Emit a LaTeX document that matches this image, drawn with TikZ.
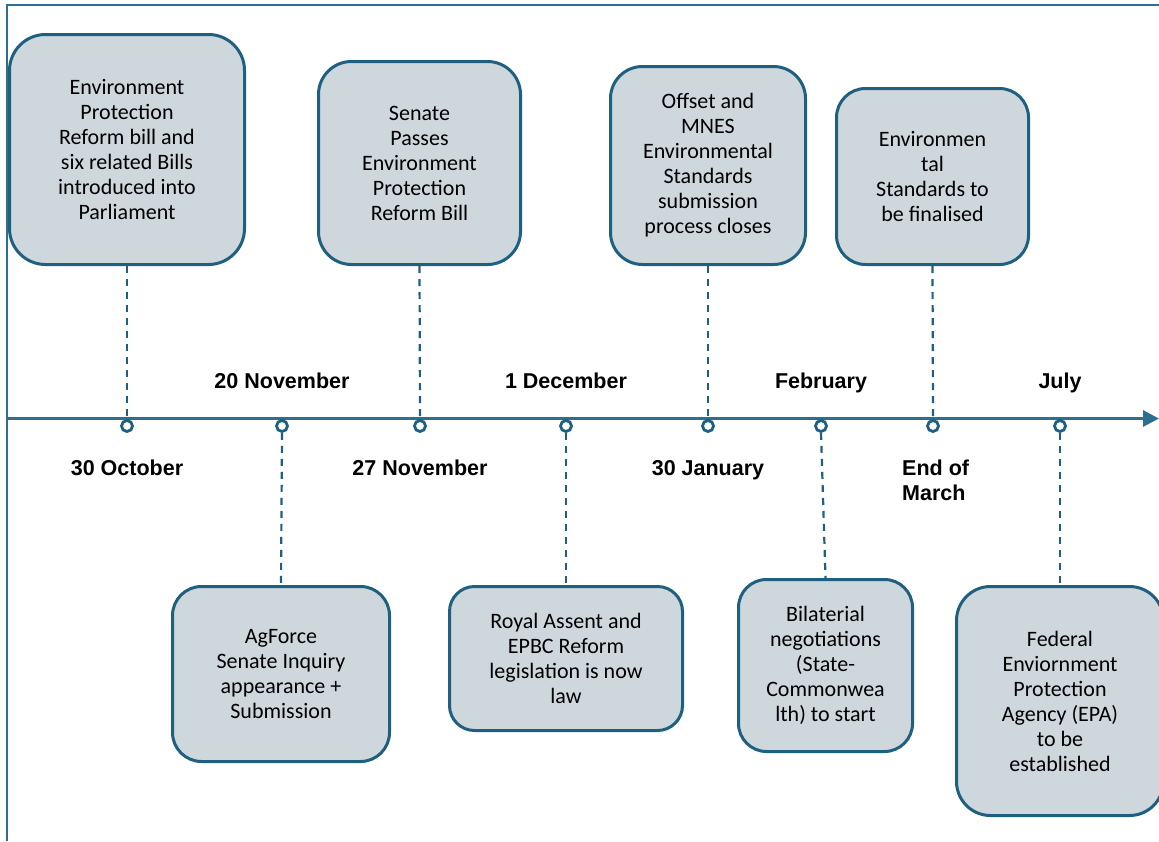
\documentclass[tikz,border=0pt]{standalone}
\usepackage{fontspec}
\setmainfont{Carlito}
\newfontfamily\datefont{Liberation Sans}
\usetikzlibrary{arrows.meta}
\definecolor{lc}{RGB}{31,96,128}
\definecolor{ax}{RGB}{46,110,142}
\definecolor{bf}{RGB}{206,215,220}
\begin{document}
\begin{tikzpicture}[x=1pt,y=-1pt,
 evbox/.style={draw=lc, line width=3pt, fill=bf, align=center, font=\fontsize{22}{25}\selectfont, inner sep=0pt, text=black},
 datelbl/.style={font=\datefont\bfseries\fontsize{21.5}{25}\selectfont, align=center, inner sep=0pt, text=black},
 tick/.style={circle, draw=lc, fill=white, line width=2.8pt, minimum size=11pt, inner sep=0pt},
 conn/.style={draw=lc, line width=2.2pt, dash pattern=on 7pt off 6pt}]
\useasboundingbox (0,0) rectangle (1159,841);
% frame
\draw[ax, line width=1.5pt] (7,841) -- (7,5) -- (1159,5);
% axis
\coordinate (axL) at (7,418.5);
\coordinate (axR) at (1159,418.5);
\draw[ax, line width=3pt, -{Triangle[length=16pt,width=16pt]}] (axL) -- (axR);
% ticks
\node[tick] (k1) at (127,426) {};
\node[tick] (k2) at (282,426) {};
\node[tick] (k3) at (420,426) {};
\node[tick] (k4) at (566,426) {};
\node[tick] (k5) at (708,426) {};
\node[tick] (k6) at (821,426) {};
\node[tick] (k7) at (933,426) {};
\node[tick] (k8) at (1060,426) {};
% top boxes
\node[evbox, rounded corners=36pt, minimum width=235pt, minimum height=230pt] (T1) at (127,149.5)
 {Environment\\Protection\\Reform bill and\\six related Bills\\introduced into\\Parliament};
\node[evbox, rounded corners=33pt, minimum width=202pt, minimum height=203pt] (T2) at (419.5,163)
 {Senate\\Passes\\Environment\\Protection\\Reform Bill};
\node[evbox, rounded corners=32pt, minimum width=195pt, minimum height=198pt] (T3) at (708,165.5)
 {Offset and\\MNES\\Environmental\\Standards\\submission\\process closes};
\node[evbox, rounded corners=29pt, minimum width=192pt, minimum height=176pt] (T4) at (932.5,176.5)
 {Environmen\\tal\\Standards to\\be finalised};
% bottom boxes
\node[evbox, rounded corners=29pt, minimum width=217pt, minimum height=175pt] (B1) at (281,674)
 {AgForce\\Senate Inquiry\\appearance +\\Submission};
\node[evbox, rounded corners=25pt, minimum width=233pt, minimum height=144pt] (B2) at (566,658.5)
 {Royal Assent and\\EPBC Reform\\legislation is now\\law};
\node[evbox, rounded corners=28pt, minimum width=174pt, minimum height=172pt] (B3) at (825.5,665.5)
 {Bilaterial\\negotiations\\(State-\\Commonwea\\lth) to start};
\node[evbox, rounded corners=34pt, minimum width=207pt, minimum height=229pt] (B4) at (1060,701)
 {Federal\\Enviornment\\Protection\\Agency (EPA)\\to be\\established};
% connectors
\draw[conn] (T1.south) -- (k1.north);
\draw[conn] (T2.south) -- (k3.north);
\draw[conn] (T3.south) -- (k5.north);
\draw[conn] (T4.south) -- (k7.north);
\draw[conn] (k2.south) -- (B1.north);
\draw[conn] (k4.south) -- (B2.north);
\draw[conn] (k6.south) -- (B3.north);
\draw[conn] (k8.south) -- (B4.north);
% date labels
\node[datelbl, anchor=base] (d1) at (127,475) {30 October};
\node[datelbl, anchor=base] (d2) at (282,388) {20 November};
\node[datelbl, anchor=base] (d3) at (420,475) {27 November};
\node[datelbl, anchor=base] (d4) at (566,388) {1 December};
\node[datelbl, anchor=base] (d5) at (708,475) {30 January};
\node[datelbl, anchor=base] (d6) at (821,388) {February};
\node[datelbl, align=left, anchor=north west] (d7) at (902,460) {End of\\March};
\node[datelbl, anchor=base] (d8) at (1060,388) {July};
\end{tikzpicture}
\end{document}
